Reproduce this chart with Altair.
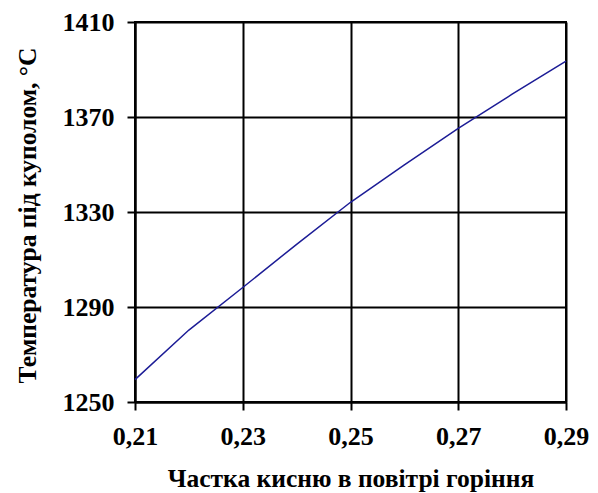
import altair as alt
import pandas as pd

# Oxygen fraction in combustion air and temperature under the dome
oxygen_fraction = [0.21, 0.22, 0.23, 0.24, 0.25, 0.26, 0.27, 0.28, 0.29]
dome_temperature = [1259.4, 1280.3, 1298.2, 1316.4, 1334.1, 1349.8, 1365.2, 1379.6, 1393.5]

x_ticks = [0.21, 0.23, 0.25, 0.27, 0.29]
y_ticks = [1250, 1290, 1330, 1370, 1410]

df = pd.DataFrame({"o2": oxygen_fraction, "t": dome_temperature})

FONT = "Liberation Serif"

chart = (
    alt.Chart(df)
    .mark_line(color="#1c1c96", strokeWidth=1.5)
    .encode(
        x=alt.X(
            "o2:Q",
            scale=alt.Scale(domain=[0.21, 0.29], nice=False, zero=False),
            axis=alt.Axis(
                title="Частка кисню в повітрі горіння",
                values=x_ticks,
                labelExpr="replace(format(datum.value, '.2f'), '.', ',')",
                titleY=76,
                titleBaseline="middle",
                labelPadding=13,
            ),
        ),
        y=alt.Y(
            "t:Q",
            scale=alt.Scale(domain=[1250, 1410], nice=False, zero=False),
            axis=alt.Axis(
                title="Температура під куполом, °С",
                values=y_ticks,
                format="d",
                titleX=-108,
                titleY=193,
                titleAngle=-90,
                titleAlign="center",
                titleBaseline="middle",
                labelPadding=13,
            ),
        ),
    )
    .properties(
        width=431,
        height=380,
        autosize=alt.AutoSizeParams(type="none"),
        padding={"left": 135, "top": 22, "right": 32, "bottom": 91},
    )
    .configure_view(stroke="black", strokeWidth=2)
    .configure_axis(
        grid=True,
        gridColor="black",
        gridWidth=2,
        gridOpacity=1,
        domainColor="black",
        domainWidth=2,
        tickColor="black",
        tickWidth=2,
        tickSize=8,
        labelFont=FONT,
        labelFontSize=26,
        labelFontWeight="bold",
        labelColor="black",
        titleFont=FONT,
        titleFontSize=25.5,
        titleFontWeight="bold",
        titleColor="black",
        labelFlush=False,
    )
)

chart.save("out.html", embed_options={"renderer": "svg", "actions": False})
